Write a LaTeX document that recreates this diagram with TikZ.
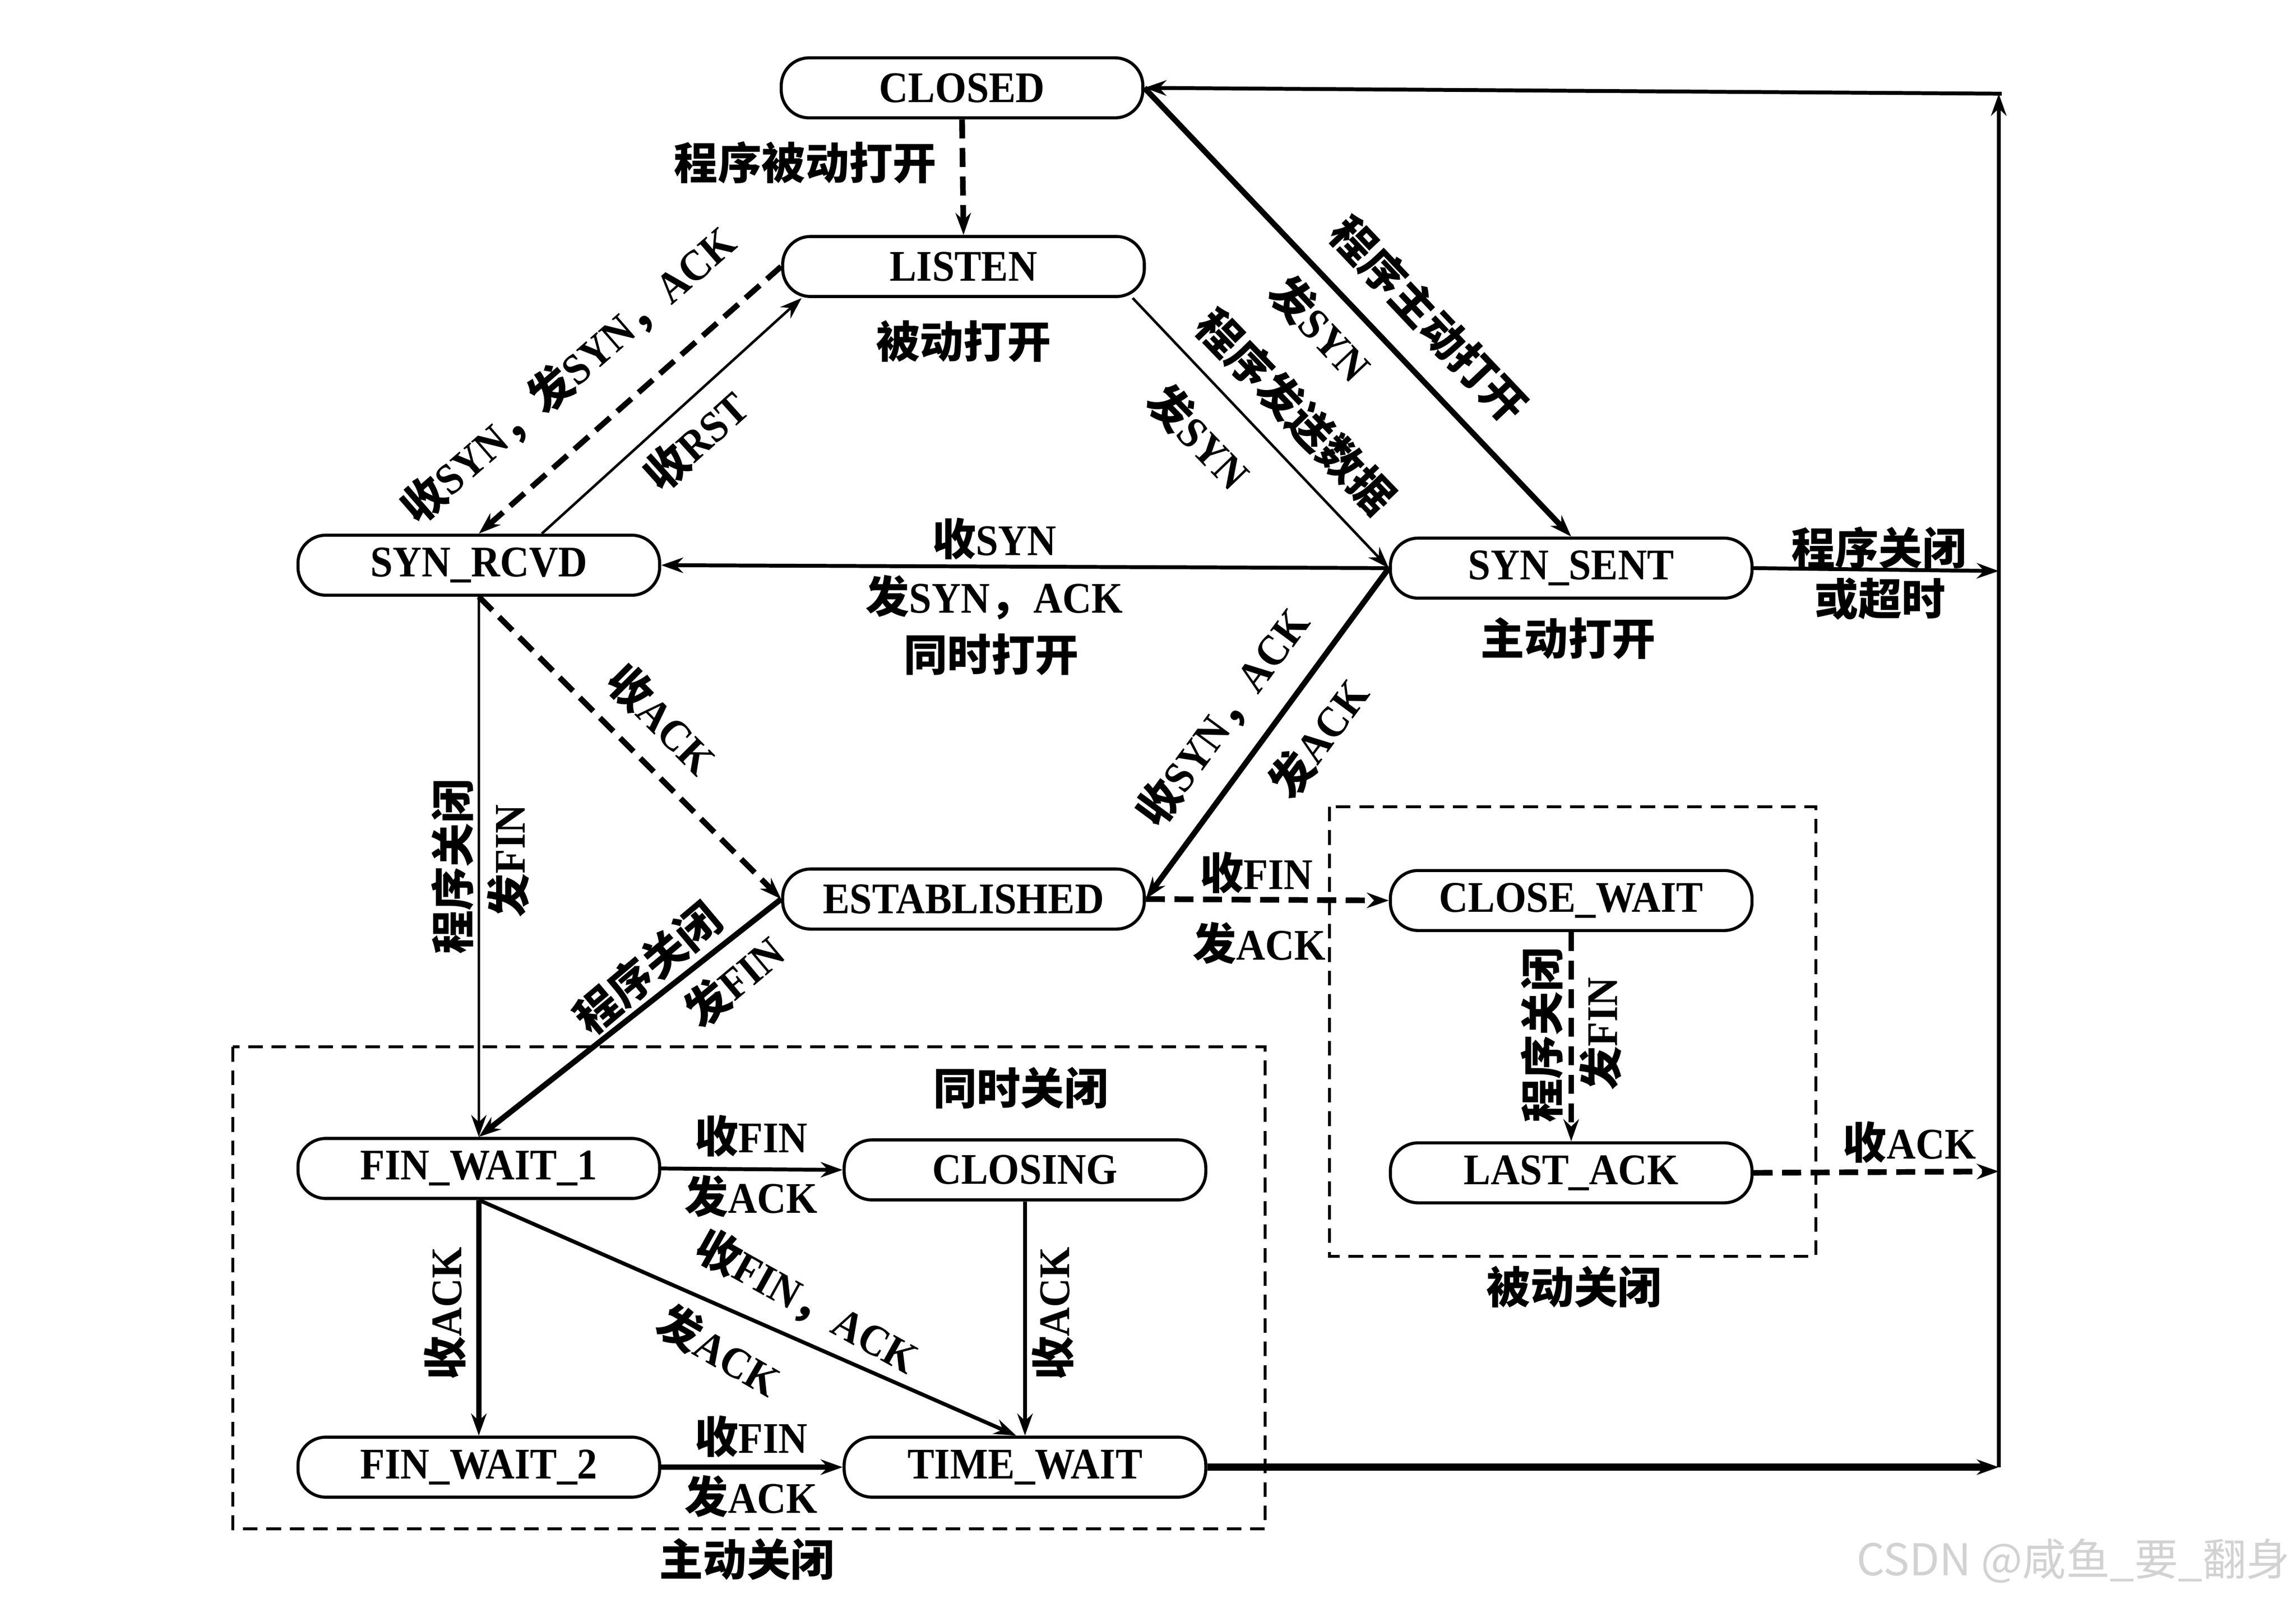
\documentclass[tikz,border=0pt]{standalone}
\usepackage{fontspec}
\setmainfont{Liberation Serif}[BoldFeatures={FakeStretch=0.92}]
\newfontfamily\cjk{Noto Sans CJK SC}
\usetikzlibrary{arrows.meta,calc}
\newcommand{\zh}[1]{{\cjk\bfseries #1}}
\begin{document}
\begin{tikzpicture}[x=0.02cm,y=-0.02cm,
  st/.style={draw, line width=1.2pt, rounded corners=0.38cm, minimum width=4.94cm, minimum height=0.82cm, inner sep=0pt, font=\bfseries\fontsize{17}{20}\selectfont},
  lb/.style={font=\bfseries\fontsize{17}{20}\selectfont, inner sep=1pt},
  tip/.style={-{Stealth[length=0.3cm,width=0.21cm]}},
  thk/.style={tip, line width=2.2pt},
  thn/.style={tip, line width=1pt},
  mid/.style={tip, line width=1.5pt},
  dsh/.style={tip, line width=2.2pt, dash pattern=on 0.26cm off 0.13cm},
  dbox/.style={line width=1.1pt, dash pattern=on 0.2cm off 0.12cm}
]
\path[use as bounding box] (0,0) rectangle (1568,1092);

% dashed group boxes
\draw[dbox] (159,715) rectangle (864,1044);
\draw[dbox] (908,551) rectangle (1240,858);

% states
\node[st] (CLOSED) at (657,60) {CLOSED};
\node[st] (LISTEN) at (658,182) {LISTEN};
\node[st] (SYNRCVD) at (327,386) {SYN\_RCVD};
\node[st] (SYNSENT) at (1073,388) {SYN\_SENT};
\node[st] (EST) at (658,614) {ESTABLISHED};
\node[st] (CW) at (1073,615) {CLOSE\_WAIT};
\node[st] (FW1) at (327,798) {FIN\_WAIT\_1};
\node[st] (CLOSING) at (700,799) {CLOSING};
\node[st] (LA) at (1073,801) {LAST\_ACK};
\node[st] (FW2) at (327,1002) {FIN\_WAIT\_2};
\node[st] (TW) at (700,1002) {TIME\_WAIT};

% right return line
\coordinate (rTop) at (1365,64);
\coordinate (rSS) at (1365,390);
\coordinate (rLA) at (1365,800);
\coordinate (rTW) at (1365,1002);

% connectors
\draw[dsh] (CLOSED.south) -- (LISTEN.north);
\draw[thk] (CLOSED.east) -- (SYNSENT.north);
\draw[thn] ($(LISTEN.south east)+(-9,0)$) -- (SYNSENT.west);
\draw[dsh] (LISTEN.west) -- (SYNRCVD.north);
\draw[thn] ($(SYNRCVD.north)+(43,0)$) -- ($(LISTEN.south west)+(14,0)$);
\draw[mid] (SYNSENT.west) -- (SYNRCVD.east);
\draw[dsh] (SYNRCVD.south) -- (EST.west);
\draw[thk] (SYNSENT.west) -- (EST.east);
\draw[thn] (SYNRCVD.south) -- (FW1.north);
\draw[thk] (EST.west) -- (FW1.north);
\draw[dsh] (EST.east) -- (CW.west);
\draw[dsh] (CW.south) -- (LA.north);
\draw[dsh] (LA.east) -- (rLA);
\draw[mid] (FW1.east) -- (CLOSING.west);
\draw[thk] (FW1.south) -- (FW2.north);
\draw[mid] (FW1.south) -- ($(TW.north)+(-6,0)$);
\draw[mid] (CLOSING.south) -- (TW.north);
\draw[thk] (FW2.east) -- (TW.west);
\draw[tip, line width=2.8pt] (TW.east) -- (rTW);
\draw[mid] (SYNSENT.east) -- (rSS);
\draw[mid] (rTW) -- (rTop);
\draw[mid] ($(rTop)+(2,0)$) -- (CLOSED.east);

% labels
\node[lb] (l1) at (550,111) {\zh{程序被动打开}};
\node[lb] (l2) at (658,233) {\zh{被动打开}};
\node[lb,rotate=-46.6] (l3) at (976,218) {\zh{程序主动打开}};
\node[lb,rotate=-46.6] (l4) at (902,224) {\zh{发}SYN};
\node[lb,rotate=-46] (l5) at (885,281) {\zh{程序发送数据}};
\node[lb,rotate=-46] (l6) at (819,298) {\zh{发}SYN};
\node[lb,rotate=41] (l7) at (388,256) {\zh{收}SYN\zh{，发}SYN\zh{，}ACK};
\node[lb,rotate=42] (l8) at (475,301) {\zh{收}RST};
\node[lb] (l9) at (679,368) {\zh{收}SYN};
\node[lb] (l10) at (679,408) {\zh{发}SYN\zh{，}ACK};
\node[lb] (l11) at (677,447) {\zh{同时打开}};
\node[lb] (l12) at (1071,436) {\zh{主动打开}};
\node[lb] (l13) at (1283,374) {\zh{程序关闭}};
\node[lb] (l14) at (1284,409) {\zh{或超时}};
\node[lb,rotate=-45] (l15) at (452,491) {\zh{收}ACK};
\node[lb,rotate=53.6] (l16) at (835,490) {\zh{收}SYN\zh{，}ACK};
\node[lb,rotate=53.6] (l17) at (900,504) {\zh{发}ACK};
\node[lb,rotate=90] (l18) at (309,592) {\zh{程序关闭}};
\node[lb,rotate=90] (l19) at (347,588) {\zh{发}FIN};
\node[lb,rotate=40] (l20) at (442,661) {\zh{程序关闭}};
\node[lb,rotate=40] (l21) at (501,670) {\zh{发}FIN};
\node[lb] (l22) at (858,596) {\zh{收}FIN};
\node[lb] (l23) at (860,644) {\zh{发}ACK};
\node[lb,rotate=90] (l24) at (1053,707) {\zh{程序关闭}};
\node[lb,rotate=90] (l25) at (1093,706) {\zh{发}FIN};
\node[lb] (l26) at (1304,780) {\zh{收}ACK};
\node[lb] (l27) at (1075,879) {\zh{被动关闭}};
\node[lb] (l28) at (697,743) {\zh{同时关闭}};
\node[lb] (l29) at (513,776) {\zh{收}FIN};
\node[lb] (l30) at (513,817) {\zh{发}ACK};
\node[lb,rotate=90] (l31) at (304,897) {\zh{收}ACK};
\node[lb,rotate=-29] (l32) at (551,889) {\zh{收}FIN\zh{，}ACK};
\node[lb,rotate=-30] (l33) at (491,922) {\zh{发}ACK};
\node[lb,rotate=90] (l34) at (719,897) {\zh{收}ACK};
\node[lb] (l35) at (513,981) {\zh{收}FIN};
\node[lb] (l36) at (513,1022) {\zh{发}ACK};
\node[lb] (l37) at (510,1065) {\zh{主动关闭}};
\node[text=gray!35, inner sep=0pt, font=\cjk\fontsize{17}{17}\selectfont] (wm) at (1416,1066) {CSDN @咸鱼\_要\_翻身};
\end{tikzpicture}
\end{document}
